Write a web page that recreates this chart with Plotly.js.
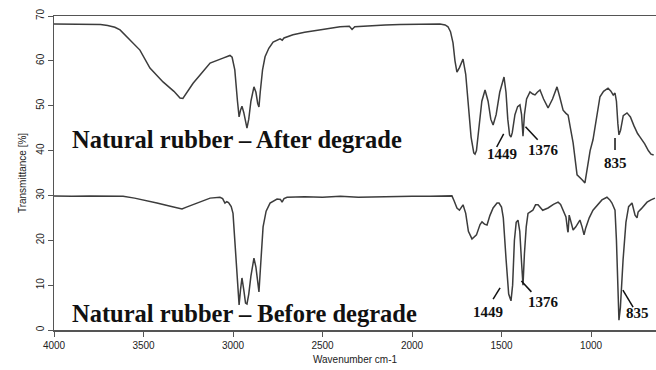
<!DOCTYPE html>
<html><head><meta charset="utf-8">
<script src="https://cdn.plot.ly/plotly-3.0.1.min.js"></script>
<style>html,body{margin:0;padding:0;background:#fff}#chart{width:656px;height:370px}</style>
</head><body><div id="chart"></div>
<script>
// After degrade spectrum: wavenumber (cm-1) and transmittance (%)
var afterWn = [4000,3900,3800,3740,3700,3660,3631,3580,3520,3464,3391,3330,3296,3280,3250,3223,3170,3128,3056,3017,3005,2990,2975,2966,2958,2950,2940,2930,2922,2912,2900,2883,2872,2862,2855,2848,2835,2821,2800,2776,2737,2725,2715,2665,2600,2500,2402,2350,2335,2320,2251,2150,2067,1950,1844,1815,1799,1785,1771,1760,1749,1735,1715,1700,1685,1670,1655,1648,1640,1625,1610,1592,1575,1560,1547,1530,1510,1486,1475,1465,1455,1447,1440,1425,1410,1397,1388,1380,1372,1360,1341,1325,1313,1300,1285,1265,1240,1215,1190,1175,1156,1140,1128,1115,1100,1078,1060,1050,1034,1020,1005,989,970,950,930,905,890,876,866,858,850,844,835,820,799,780,760,740,726,700,680,665,650];
var afterT  = [68.2,68.2,68.2,68.1,67.9,67.5,66.9,64.8,62.4,58.4,55.3,53.2,51.7,51.6,53.3,55.0,57.5,59.5,60.6,61.2,60.8,58,51,47.5,49.0,49.9,48.5,46,45.0,47,51,54.2,53,50.5,49.7,53,58,60.9,62.8,64.2,64.9,64.6,65.1,65.8,66.4,67.0,67.6,67.7,67.0,67.6,67.8,68.0,68.1,68.2,68.2,68.0,67.6,66.5,64.0,60,57.5,58.5,60.4,57,50,43,39.5,39.2,40,46,51,53.5,51,47,45.7,48,53,56.4,53,47,43.5,43.0,44,48,49.8,50.2,48,43.2,48,51.5,53.1,52.6,52.4,53,53.5,51.5,49.5,51.5,54.2,52,49,48.3,47.9,45,41.7,34.6,34,33.5,32.8,36,40,42.4,47,52,53.2,53.9,53.3,52.4,52.8,51,46,43.5,44.5,47.8,48.4,47.5,45.5,43.8,43.0,41.5,40,39.2,39];

// Before degrade spectrum
var beforeWn = [4000,3900,3800,3700,3614,3550,3500,3425,3350,3300,3285,3260,3201,3128,3073,3058,3045,3035,3025,3010,3000,2990,2978,2966,2958,2950,2940,2930,2922,2912,2900,2883,2872,2862,2855,2848,2840,2832,2815,2793,2754,2735,2726,2715,2698,2600,2500,2400,2300,2200,2100,2000,1900,1800,1777,1765,1749,1735,1715,1700,1685,1665,1650,1640,1620,1609,1595,1581,1565,1547,1525,1514,1500,1490,1475,1460,1447,1438,1428,1418,1408,1398,1388,1380,1372,1362,1352,1325,1310,1296,1270,1240,1210,1184,1170,1156,1140,1130,1128,1122,1110,1100,1085,1062,1050,1039,1030,1010,989,960,939,911,895,883,866,858,850,844,836,828,821,805,790,771,754,743,737,720,687,665,643];
var beforeT  = [29.9,29.8,29.9,29.8,29.8,29.4,29.0,28.3,27.6,27.1,27.0,27.4,28.3,29.4,29.6,29.3,28.3,28.6,28.4,27.5,26,20,11,5.6,9,11.6,9,6,5.8,8,12,16,14,10,8.5,13,19,23,26.5,28.3,29.2,29.1,28.5,29.3,29.6,29.7,29.6,29.8,29.6,29.7,29.8,29.8,29.8,29.9,29.9,28.8,27.2,26.7,27.9,26,22,20.3,20.8,21.2,23.5,24.1,23.6,23.4,25.5,27.2,28.3,28.3,27.4,25,16,8,6.5,10,20,24,24.5,22,15,10,17,23,26,26.7,27.9,27.9,26.7,27.2,28.0,28.5,28,26.7,25.2,22,21.8,25.6,24,22.3,23,24.5,23,21.2,22.7,25,26.7,28,29.0,29.6,29,28.3,26.7,20,8,2.2,5,11,15.6,24,27.5,28.3,25.6,25.0,26.3,27,28.5,29.0,29.4];

var tickVals = [4000,3500,3000,2500,2000,1500,1000];
var yTickVals = [0,10,20,30,40,50,60,70];

var lineStyle = {color:'#3c3c3c', width:1.5};
var traces = [
  {x: afterWn, y: afterT, type:'scatter', mode:'lines', line: lineStyle, hoverinfo:'skip'},
  {x: beforeWn, y: beforeT, type:'scatter', mode:'lines', line: lineStyle, hoverinfo:'skip'}
];

var serif = 'Liberation Serif, Times New Roman, serif';
function lbl(t, x, y, sz){ return {text:'<b>'+t+'</b>', x:x, y:y, xref:'x', yref:'y', showarrow:false, xanchor:'center', yanchor:'middle', font:{family:serif, size:sz||15, color:'#111'}}; }
var annotations = [
  {text:'<b>Natural rubber – After degrade</b>', x:3910, y:42.4, xref:'x', yref:'y', showarrow:false, xanchor:'left', yanchor:'middle', font:{family:serif, size:24.5, color:'#111'}},
  {text:'<b>Natural rubber – Before degrade</b>', x:3910, y:3.6, xref:'x', yref:'y', showarrow:false, xanchor:'left', yanchor:'middle', font:{family:serif, size:24.5, color:'#111'}},
  lbl('1449', 1497, 39.2), lbl('1376', 1268, 40.1), lbl('835', 866, 37.2),
  lbl('1449', 1575, 4.0), lbl('1376', 1268, 6.2), lbl('835', 742, 3.8)
];
function seg(x0,y0,x1,y1){ return {type:'line', xref:'x', yref:'y', x0:x0, y0:y0, x1:x1, y1:y1, line:{color:'#111', width:1.5}}; }
var shapes = [
  seg(1527,40.8,1488,43.7), seg(1366,45.3,1298,42.4), seg(866,42.8,866,40.1),
  seg(1547,6.9,1508,9.4), seg(1389,10.9,1333,8.5), seg(822,8.9,765,5.1)
];

var layout = {
  width:656, height:370,
  margin:{l:54, r:0, t:16, b:40},
  paper_bgcolor:'#fff', plot_bgcolor:'#fff',
  showlegend:false,
  font:{family:'Liberation Sans, Arial, sans-serif', size:10, color:'#222'},
  xaxis:{range:[4000,637], tickvals:tickVals, ticktext:tickVals.map(String), ticks:'outside', ticklen:5, tickcolor:'#555', showline:true, linecolor:'#555', linewidth:1.5, mirror:true, showgrid:false, zeroline:false,
         title:{text:'Wavenumber cm-1', standoff:6, font:{size:10}}, tickfont:{size:10}},
  yaxis:{range:[0,70], tickvals:yTickVals, ticktext:yTickVals.map(String), ticks:'outside', ticklen:5, tickcolor:'#555', showline:true, linecolor:'#555', linewidth:1.5, showgrid:false, zeroline:false, tickangle:-90,
         title:{text:'Transmittance [%]', standoff:6, font:{size:10}}, tickfont:{size:10}},
  annotations:annotations, shapes:shapes
};
Plotly.newPlot('chart', traces, layout, {staticPlot:true, displayModeBar:false});
</script></body></html>
